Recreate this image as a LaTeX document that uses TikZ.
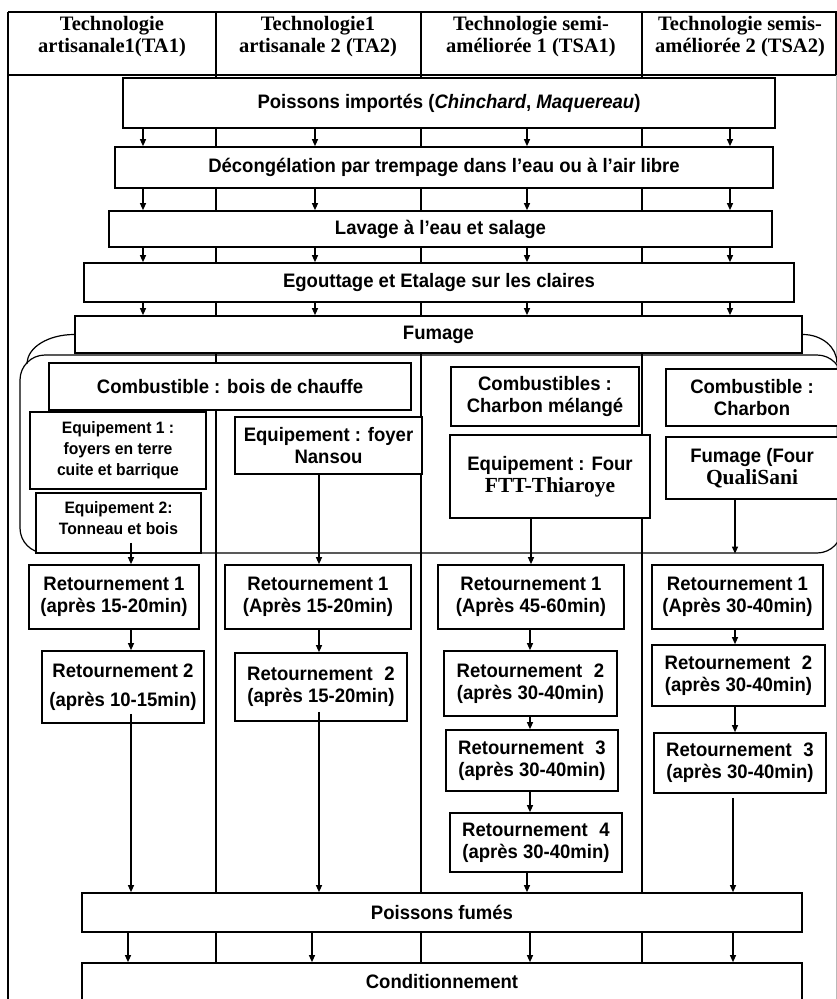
\documentclass[tikz,border=0pt]{standalone}
\usepackage{fontspec}
\setmainfont{Liberation Sans}[FakeStretch=0.95]
\newfontfamily\hdr{Liberation Serif}
\usetikzlibrary{arrows.meta,calc}
\newcommand\bt{\fontsize{19.5}{22}\selectfont\bfseries}
\newcommand\st{\fontsize{16.5}{21}\selectfont\bfseries}
\newcommand\hf{\hdr\fontsize{20.5}{22}\selectfont\bfseries}
\newcommand\sfb[1]{{\hdr\fontsize{21.5}{22}\selectfont\bfseries #1}}
\tikzset{
  box/.style={draw, line width=1.7pt, fill=white, inner sep=0pt, align=center, font=\bt},
  sbox/.style={box, font=\st},
  arr/.style={line width=1.2pt, -{Triangle[length=7pt,width=6pt]}},
  ln/.style={line width=1.4pt},
  hdrtxt/.style={inner sep=0pt, align=center, font=\hf},
  grp/.style={draw, line width=1.2pt, rounded corners=25pt, inner sep=0pt},
  curl/.style={line width=1.2pt},
}
\begin{document}
\begin{tikzpicture}[x=1pt,y=-1pt]
\useasboundingbox (0,0) rectangle (837,999);
\clip (0,0) rectangle (837,999);
% frame and header
\draw[ln] (8,12) -- (837,12);
\draw[ln] (8,12) -- (8,1005);
\draw[line width=2pt] (8,75) -- (837,75);
\draw[ln] (836,12) -- (836,75);
\draw[gray!55, line width=0.6pt] (836,75) -- (836,1005);
\foreach \x in {216,421,642} \draw[ln] (\x,12) -- (\x,963);
\node[hdrtxt] (h1) at (112,37) {Technologie\\artisanale1(TA1)};
\node[hdrtxt] (h2) at (318,37) {Technologie1\\artisanale 2 (TA2)};
\node[hdrtxt] (h3) at (531,37) {Technologie semi-\\améliorée 1 (TSA1)};
\node[hdrtxt] (h4) at (740,37) {Technologie semis-\\améliorée 2 (TSA2)};
% group frame
\node[grp, minimum width=822, minimum height=198] (grp) at (431,454) {};
% main steps
\node[box, minimum width=652, minimum height=50] (imp) at (449,103) {Poissons importés (\textit{Chinchard}, \textit{Maquereau})};
\node[box, minimum width=658, minimum height=41] (dec) at (444,167.5) {Décongélation par trempage dans l’eau ou à l’air libre};
\node[box, minimum width=663, minimum height=36] (lav) at (440.5,229) {Lavage à l’eau et salage};
\node[box, minimum width=710, minimum height=39] (ego) at (439,282.5) {Egouttage et Etalage sur les claires};
\node[box, minimum width=727, minimum height=37] (fum) at (438.5,334.5) {Fumage};
\draw[curl] (fum.west) arc[start angle=270, end angle=180, x radius=47, y radius=29];
\draw[curl] (fum.east) arc[start angle=270, end angle=360, x radius=34, y radius=28];
% fumage details
\node[box, minimum width=362, minimum height=47] (bois) at (230,386.5) {Combustible : bois de chauffe};
\node[sbox, minimum width=176, minimum height=77] (eq1) at (118,450.5) {Equipement 1 :\\foyers en terre\\cuite et barrique};
\node[sbox, minimum width=165, minimum height=60, text depth=10pt] (eq2) at (118.5,523) {Equipement 2:\\Tonneau et bois};
\node[box, minimum width=187, minimum height=57] (nan) at (328.5,445.5) {Equipement : foyer\\Nansou};
\node[box, minimum width=188, minimum height=59] (cbm) at (545,396.5) {Combustibles :\\Charbon mélangé};
\node[box, minimum width=200, minimum height=83] (ftt) at (550,476.5) {Equipement : Four\\\sfb{FTT-Thiaroye}};
\node[box, minimum width=172, minimum height=57] (cch) at (752,397.5) {Combustible :\\Charbon};
\node[box, minimum width=172, minimum height=62] (qs) at (752,468) {Fumage (Four\\\sfb{QualiSani}};
% retournements
\node[box, minimum width=170, minimum height=64] (r11) at (114,597) {Retournement 1\\(après 15-20min)};
\node[box, minimum width=162, minimum height=72] (r12) at (123,687) {Retournement 2\\[7pt](après 10-15min)};
\node[box, minimum width=186, minimum height=64] (r21) at (318,597) {Retournement 1\\(Après 15-20min)};
\node[box, minimum width=172, minimum height=68] (r22) at (321,687) {Retournement\hspace{0.6em}2\\(après 15-20min)};
\node[box, minimum width=186, minimum height=64] (r31) at (531,597) {Retournement 1\\(Après 45-60min)};
\node[box, minimum width=173, minimum height=65] (r32) at (530.5,683.5) {Retournement\hspace{0.6em}2\\(après 30-40min)};
\node[box, minimum width=172, minimum height=61] (r33) at (532,760.5) {Retournement\hspace{0.6em}3\\(après 30-40min)};
\node[box, minimum width=172, minimum height=59] (r34) at (536,842.5) {Retournement\hspace{0.6em}4\\(après 30-40min)};
\node[box, minimum width=171, minimum height=64] (r41) at (737.5,597) {Retournement 1\\(Après 30-40min)};
\node[box, minimum width=173, minimum height=61] (r42) at (738.5,675.5) {Retournement\hspace{0.6em}2\\(après 30-40min)};
\node[box, minimum width=172, minimum height=60] (r43) at (740,763) {Retournement\hspace{0.6em}3\\(après 30-40min)};
% end
\node[box, minimum width=720, minimum height=39] (pf) at (442,912.5) {Poissons fumés};
\node[box, minimum width=720, minimum height=38] (cond) at (442,982) {Conditionnement};
% column coordinates
\coordinate (c1) at (143,0); \coordinate (c2) at (315,0);
\coordinate (c3) at (527,0); \coordinate (c4) at (730,0);
\coordinate (d1) at (131,0); \coordinate (d2) at (319,0);
\coordinate (d3) at (531,0); \coordinate (d4) at (735,0);
\coordinate (d4b) at (733,0);
\coordinate (e1) at (128,0); \coordinate (e2) at (312,0);
\coordinate (e3) at (530,0); \coordinate (e4) at (733,0);
% arrows between main steps
\foreach \c in {c1,c2,c3,c4}{
  \draw[arr] (\c |- imp.south) -- (\c |- dec.north);
  \draw[arr] (\c |- dec.south) -- (\c |- lav.north);
  \draw[arr] (\c |- lav.south) -- (\c |- ego.north);
  \draw[arr] (\c |- ego.south) -- (\c |- fum.north);
}
% fumage to retournement
\draw[arr] ($(d1 |- eq2.south)+(0,-11)$) -- (d1 |- r11.north);
\draw[arr] (d2 |- nan.south) -- (d2 |- r21.north);
\draw[arr] (d3 |- ftt.south) -- (d3 |- r31.north);
\draw[arr] (d4 |- qs.south) -- (d4 |- grp.south);
% within columns
\draw[arr] (d1 |- r11.south) -- (d1 |- r12.north);
\draw[arr] ($(d1 |- r12.south)+(0,-10)$) -- (d1 |- pf.north);
\draw[arr] (d2 |- r21.south) -- (d2 |- r22.north);
\draw[arr] ($(d2 |- r22.south)+(0,-10)$) -- (d2 |- pf.north);
\draw[arr] (e3 |- r31.south) -- (e3 |- r32.north);
\draw[arr] (e3 |- r32.south) -- (e3 |- r33.north);
\draw[arr] (e3 |- r33.south) -- (e3 |- r34.north);
\draw[arr] (c3 |- r34.south) -- (c3 |- pf.north);
\draw[arr] (d4 |- r41.south) -- (d4 |- r42.north);
\draw[arr] (d4 |- r42.south) -- (d4 |- r43.north);
\draw[arr] ($(d4b |- r43.south)+(0,4)$) -- (d4b |- pf.north);
% final arrows
\foreach \c in {e1,e2,e3,e4}
  \draw[arr] (\c |- pf.south) -- (\c |- cond.north);
\end{tikzpicture}
\end{document}
